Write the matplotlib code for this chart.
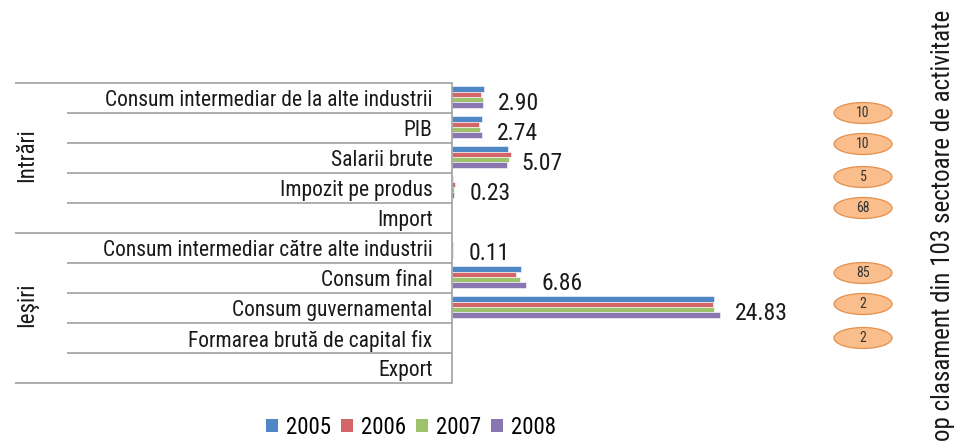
import matplotlib
matplotlib.use("Agg")
import matplotlib.pyplot as plt
import matplotlib.transforms as mtransforms
from matplotlib.patches import Ellipse, Patch

categories = [
    "Consum intermediar de la alte industrii",
    "PIB",
    "Salarii brute",
    "Impozit pe produs",
    "Import",
    "Consum intermediar către alte industrii",
    "Consum final",
    "Consum guvernamental",
    "Formarea brută de capital fix",
    "Export",
]
groups = ["Intrări", "Ieşiri"]
years = ["2005", "2006", "2007", "2008"]

v2005 = [2.96, 2.75, 5.15, 0.05, 0, 0.02, 6.40, 24.28, 0, 0]
v2006 = [2.70, 2.53, 5.50, 0.25, 0, 0.10, 5.92, 24.16, 0, 0]
v2007 = [2.84, 2.60, 5.28, 0.15, 0, 0.05, 6.30, 24.22, 0, 0]
v2008 = [2.90, 2.74, 5.07, 0.23, 0, 0.11, 6.86, 24.83, 0, 0]

ranks = [10, 10, 5, 68, 85, 2, 2]
rank_title = "Top clasament din 103 sectoare de activitate"

colors = ["#4f86c6", "#d4666a", "#9cc26c", "#8a76b0"]
plt.rcParams["font.family"] = ["Roboto Condensed", "DejaVu Sans"]
FS = 15.5
TXT = "#1a1a1a"

W, H = 958, 441
fig = plt.figure(figsize=(W / 100, H / 100), dpi=100)

# axes box in pixels: x 452..776 (0..30), y 83..383
ax = fig.add_axes([452 / W, 1 - 383 / H, 324 / W, 300 / H])
ax.set_xlim(0, 30)
ax.set_ylim(len(categories) - 0.5, -0.5)

bh = 0.178
series = [v2005, v2006, v2007, v2008]
for k, vals in enumerate(series):
    ys = [i + (k - 1.5) * bh - 0.03 for i in range(len(categories))]
    ax.barh(ys, vals, height=bh, color=colors[k], edgecolor="white", linewidth=0.4)

# data labels of the 2008 series
px = 30 / 324
for i, v in enumerate(v2008):
    if v > 0:
        ax.text(v + 15 * px, i + 0.17, f"{v:.2f}", fontsize=17, va="center", ha="left",
                color=TXT)

for s in ["top", "right", "bottom"]:
    ax.spines[s].set_visible(False)
ax.spines["left"].set_color("#a0a0a0")
ax.spines["left"].set_linewidth(1.2)
ax.set_xticks([])
ax.set_yticks(range(len(categories)))
ax.set_yticklabels(categories, fontsize=FS, color=TXT)
ax.tick_params(axis="y", length=0, pad=14)

# separators in the label area
tr = mtransforms.blended_transform_factory(fig.transFigure, ax.transData)
for b in range(len(categories) + 1):
    y = b - 0.5
    x0 = 15 / W if b in (0, 5, 10) else 67 / W
    ax.plot([x0, 452 / W], [y, y], transform=tr, color="#a0a0a0", lw=1.2,
            clip_on=False, solid_capstyle="butt")

for g, name in enumerate(groups):
    ax.text(27 / W, 1.9 + 5 * g, name, transform=tr, rotation=90, fontsize=16.5,
            ha="center", va="center", color=TXT)

# rank ellipses
ell_y = [113, 144, 177, 208, 273, 304, 338]
for r, yp in zip(ranks, ell_y):
    e = Ellipse((863 / W, 1 - yp / H), 58 / W, 21 / H, transform=fig.transFigure,
                facecolor="#f9be8c", edgecolor="#e5904c", lw=0.9)
    fig.add_artist(e)
    fig.text(863 / W, 1 - yp / H, str(r), fontsize=10, ha="center", va="center",
             color="#333333")

fig.text(943 / W, 1 - 10 / H, rank_title, rotation=90, rotation_mode="anchor",
         ha="right", va="center", fontsize=18, color=TXT)

handles = [Patch(facecolor=c, edgecolor="none") for c in colors]
fig.legend(handles, years, loc="center", bbox_to_anchor=(411 / W, 14 / H), ncol=4,
           frameon=False, fontsize=16.5, handlelength=0.5, handleheight=0.5,
           handletextpad=0.35, columnspacing=0.45, borderpad=0)

fig.savefig("out.png", dpi=100)
